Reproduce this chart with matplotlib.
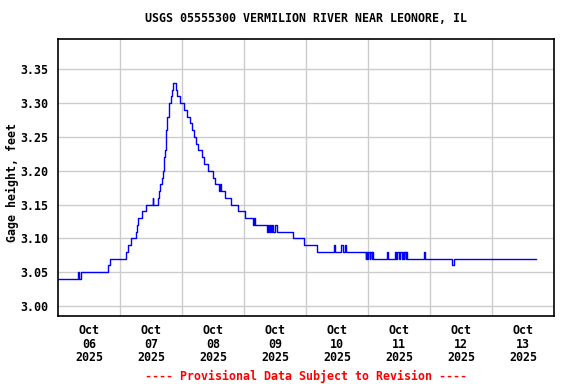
import numpy as np
import pandas as pd
import matplotlib
matplotlib.use("Agg")
import matplotlib.pyplot as plt
import matplotlib.dates as mdates

# step change points: hours after 2025-10-06 00:00, gage height (ft)
hours = [0.0, 7.75, 8.0, 8.75, 19.25, 20.0, 26.25, 27.0, 28.25, 30.0,
         30.5, 31.0, 32.5, 34.0, 36.5, 36.75, 38.5, 39.0, 39.5, 40.0,
         40.5, 40.75, 41.0, 41.25, 41.5, 41.75, 42.0, 42.25, 42.75, 43.0,
         43.5, 44.0, 44.25, 45.5, 46.0, 47.0, 48.75, 50.0, 51.0, 51.75,
         52.5, 53.25, 54.0, 55.5, 56.5, 58.0, 59.75, 60.5, 62.25, 62.75,
         63.0, 64.5, 66.75, 69.75, 72.25, 75.5, 75.75, 76.0, 80.75, 81.25,
         81.5, 82.0, 82.25, 82.75, 83.0, 83.75, 84.75, 90.75, 95.25, 100.25,
         106.75, 107.0, 109.5, 110.25, 111.0, 111.5, 119.0, 119.25, 119.5, 119.75,
         120.5, 120.75, 121.25, 121.5, 122.0, 127.25, 127.75, 130.25, 130.75, 131.0,
         132.0, 132.25, 133.0, 133.25, 133.75, 134.0, 134.5, 134.75, 135.0, 141.75,
         142.0, 152.5, 153.0, 184.75]
gage = [3.04, 3.05, 3.04, 3.05, 3.06, 3.07, 3.08, 3.09, 3.10, 3.11,
        3.12, 3.13, 3.14, 3.15, 3.16, 3.15, 3.16, 3.17, 3.18, 3.19,
        3.20, 3.21, 3.22, 3.23, 3.25, 3.26, 3.27, 3.28, 3.29, 3.30,
        3.31, 3.32, 3.33, 3.32, 3.31, 3.30, 3.29, 3.28, 3.27, 3.26,
        3.25, 3.24, 3.23, 3.22, 3.21, 3.20, 3.19, 3.18, 3.17, 3.18,
        3.17, 3.16, 3.15, 3.14, 3.13, 3.12, 3.13, 3.12, 3.11, 3.12,
        3.11, 3.12, 3.11, 3.12, 3.11, 3.12, 3.11, 3.10, 3.09, 3.08,
        3.09, 3.08, 3.09, 3.08, 3.09, 3.08, 3.07, 3.08, 3.07, 3.08,
        3.07, 3.08, 3.07, 3.08, 3.07, 3.08, 3.07, 3.08, 3.07, 3.08,
        3.07, 3.08, 3.07, 3.08, 3.07, 3.08, 3.07, 3.08, 3.07, 3.08,
        3.07, 3.06, 3.07, 3.07]

y_ticks = [3.00, 3.05, 3.10, 3.15, 3.20, 3.25, 3.30, 3.35]

title = "USGS 05555300 VERMILION RIVER NEAR LEONORE, IL"
ylabel = "Gage height, feet"
footer = "---- Provisional Data Subject to Revision ----"

start = pd.Timestamp("2025-10-06")
times = start + pd.to_timedelta(hours, unit="h")

font = "DejaVu Sans Mono"
fs = 8.4

fig = plt.figure(figsize=(5.76, 3.84), dpi=100)
ax = fig.add_axes([58.3 / 576, 1 - 316 / 384, 496 / 576, (316 - 39.3) / 384])

ax.plot(times, gage, color="#0000ff", linewidth=1.0, drawstyle="steps-post", zorder=3)

ax.set_xlim(start, start + pd.Timedelta(days=8))
ax.set_ylim(2.9853, 3.3944)

noons = [start + pd.Timedelta(hours=12 + 24 * i) for i in range(8)]
midnights = [start + pd.Timedelta(days=i) for i in range(1, 8)]
ax.set_xticks(noons)
ax.set_xticklabels([d.strftime("%b\n%d\n%Y") for d in noons],
                   fontfamily=font, fontweight="bold", fontsize=fs, linespacing=1.05)
ax.set_xticks(midnights, minor=True)
ax.set_yticks(y_ticks)
ax.set_yticklabels(["%.2f" % v for v in y_ticks], fontfamily=font,
                   fontweight="bold", fontsize=fs)

ax.tick_params(axis="both", which="both", length=0)
ax.tick_params(axis="x", pad=6)
ax.tick_params(axis="y", pad=7)
ax.grid(axis="x", which="minor", color="#cccccc", linewidth=1.0)
ax.grid(axis="y", which="major", color="#cccccc", linewidth=1.0)
ax.set_axisbelow(True)
for s in ax.spines.values():
    s.set_linewidth(1.2)
    s.set_color("black")

fig.text(306 / 576, 1 - 19 / 384, title, ha="center", va="center",
         fontfamily=font, fontweight="bold", fontsize=fs)
fig.text(12 / 576, 1 - 183 / 384, ylabel, ha="center", va="center", rotation=90,
         fontfamily=font, fontweight="bold", fontsize=fs)
fig.text(306 / 576, 1 - 376 / 384, footer, ha="center", va="center",
         fontfamily=font, fontweight="bold", fontsize=fs, color="red")

fig.savefig("out.png", dpi=100)
